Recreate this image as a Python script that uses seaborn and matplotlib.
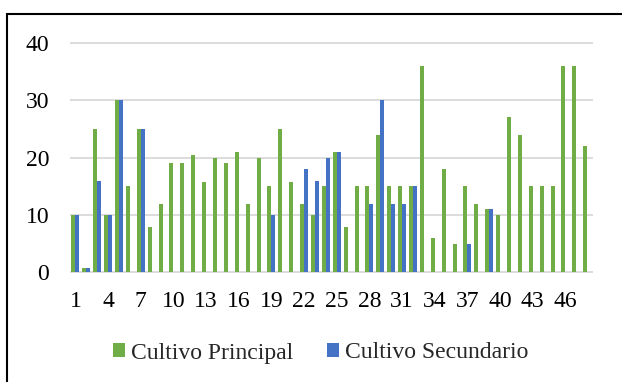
import matplotlib
matplotlib.use("Agg")
import matplotlib.pyplot as plt
from matplotlib.patches import Patch, Rectangle
import numpy as np
import pandas as pd
import seaborn as sns

# Parcel numbers 1..48
parcelas = [str(i) for i in range(1, 49)]

cultivo_principal = [10, 0.7, 25, 10, 30, 15, 25, 8, 12, 19, 19, 20.5, 15.7, 20, 19, 21,
                     12, 20, 15, 25, 15.7, 12, 10, 15, 21, 8, 15, 15, 24, 15, 15, 15,
                     36, 6, 18, 5, 15, 12, 11, 10, 27, 24, 15, 15, 15, 36, 36, 22]

cultivo_secundario = [10, 0.7, 16, 10, 30, 0, 25, 0, 0, 0, 0, 0, 0, 0, 0, 0,
                      0, 0, 10, 0, 0, 18, 16, 20, 21, 0, 0, 12, 30, 12, 12, 15,
                      0, 0, 0, 0, 5, 0, 11, 0, 0, 0, 0, 0, 0, 0, 0, 0]

series_names = ["Cultivo Principal", "Cultivo Secundario"]
colores = ["#70AD47", "#4472C4"]

tick_labels = parcelas[::3]
y_ticks = [0, 10, 20, 30, 40]

df = pd.DataFrame({
    "parcela": parcelas * 2,
    "cultivo": [series_names[0]] * len(parcelas) + [series_names[1]] * len(parcelas),
    "valor": cultivo_principal + cultivo_secundario,
})

sns.set_style("white")
plt.rcParams["font.family"] = ["Liberation Serif", "DejaVu Serif"]

W, H = 622, 382
fig = plt.figure(figsize=(W / 100, H / 100), dpi=100)

# plot area in pixel terms
x0, x1 = 70, 592.7
y_top, y_zero = 42.7, 272.5
px_per_unit = (y_zero - y_top) / 40
ymin, ymax = -0.25, 40.25
ax_top = y_top - (ymax - 40) * px_per_unit
ax_bot = y_zero + (0 - ymin) * px_per_unit
ax = fig.add_axes([x0 / W, 1 - ax_bot / H, (x1 - x0) / W, (ax_bot - ax_top) / H])

sns.barplot(data=df, x="parcela", y="valor", hue="cultivo", order=parcelas,
            hue_order=series_names, palette=colores, saturation=1,
            width=0.74, errorbar=None, linewidth=0, ax=ax)

if ax.get_legend() is not None:
    ax.get_legend().remove()

ax.set_ylim(ymin, ymax)
ax.set_xlim(-0.5, len(parcelas) - 0.5)
ax.set_yticks(y_ticks)
ax.set_yticklabels([str(t) for t in y_ticks])
ax.set_xticks(range(0, len(parcelas), 3))
ax.set_xticklabels(tick_labels)
ax.set_xlabel("")
ax.set_ylabel("")
for s in ax.spines.values():
    s.set_visible(False)
ax.tick_params(axis="both", length=0, labelsize=17, colors="black")
ax.tick_params(axis="y", pad=15)
ax.tick_params(axis="x", pad=12.5)

ax.yaxis.grid(True, color="#D9D9D9", linewidth=1.3)
ax.xaxis.grid(False)
ax.set_axisbelow(True)

handles = [Patch(facecolor=c, edgecolor="none") for c in colores]
fig.legend(handles, series_names, loc="center", bbox_to_anchor=(320.5 / W, 1 - 353 / H),
           ncol=2, frameon=False, fontsize=17, handlelength=0.5, handleheight=0.5,
           handletextpad=0.25, columnspacing=1.45, borderpad=0, borderaxespad=0)

# outer frame
fig.patches.append(Rectangle((7.5 / W, -0.1), 1.5, 1 - 14 / H + 0.1,
                             transform=fig.transFigure, fill=False,
                             edgecolor="black", linewidth=1.5, clip_on=False))

fig.savefig("out.png", dpi=100, facecolor="white")
